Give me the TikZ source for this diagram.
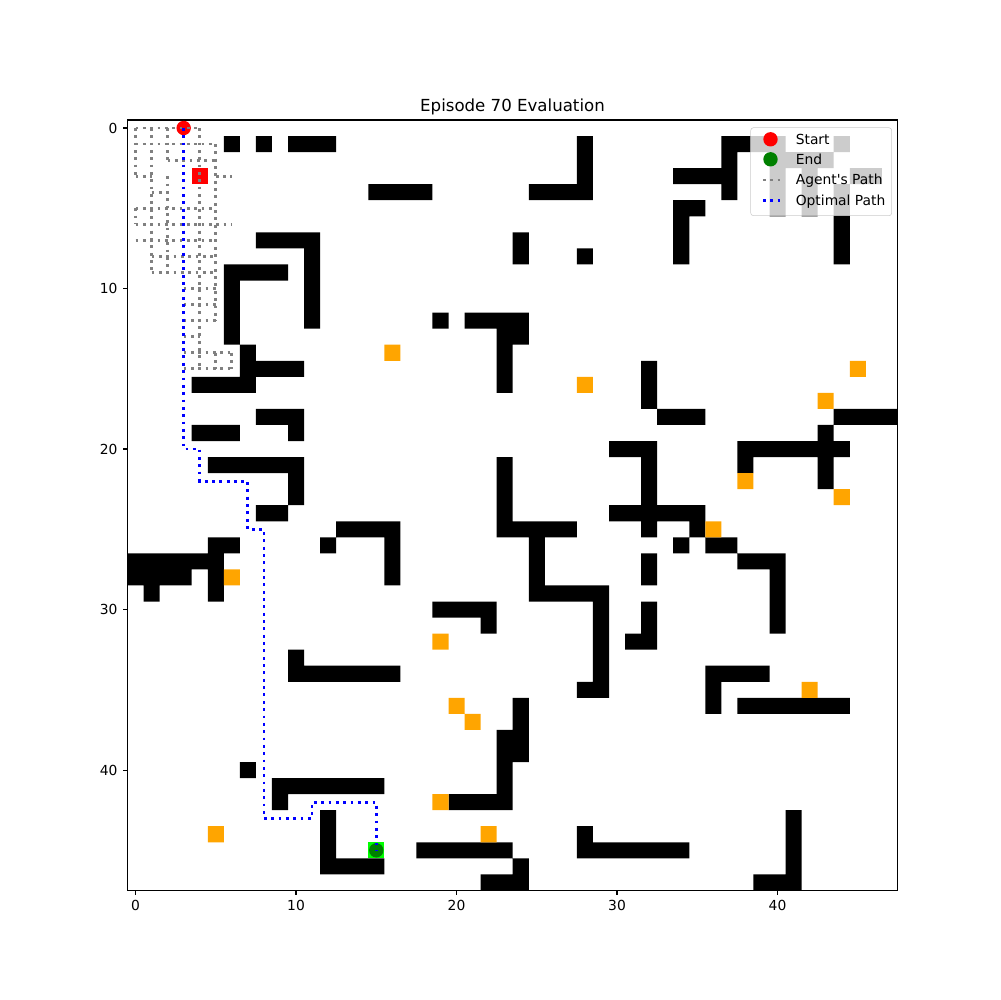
\documentclass[tikz,border=0pt]{standalone}
\usepackage{fontspec}
\setmainfont{DejaVu Sans}
\definecolor{arancio}{HTML}{FFA500}
\definecolor{verdeend}{HTML}{008000}
\definecolor{lime}{HTML}{00FF00}
\definecolor{grigio}{HTML}{808080}
\definecolor{bordolegenda}{HTML}{CCCCCC}
\begin{document}
\begin{tikzpicture}[x=0.01in,y=-0.01in,
    percorso/.style={line width=2pt,dash pattern=on 2pt off 3.3pt},
    tacca/.style={line width=0.8pt},
    etichetta/.style={inner sep=0pt,font=\fontsize{10}{12}\selectfont}]
    %sfondo e dimensioni
    \fill[white] (0,0) rectangle (1000,1000);
    \useasboundingbox (0,0) rectangle (1000,1000);
    %titolo
    \node[anchor=base,inner sep=0pt,font=\fontsize{12}{14}\selectfont] (titolo) at (512.5,111.7) {Episode 70 Evaluation};
    \begin{scope}[shift={(135.52,128.02)},x=0.160417in,y=-0.160417in]
        %disegno muri
        \fill[black] \foreach \a/\b/\c/\d in {6/1/6/1, 8/1/8/1, 10/1/12/1, 37/1/40/1, 44/1/44/1,
            28/1/28/4, 25/4/28/4, 15/4/18/4, 37/1/37/4, 34/3/37/3, 40/2/43/2, 40/1/40/5,
            42/2/42/5, 45/3/46/3, 44/4/44/8, 34/5/35/5, 34/5/34/8, 8/7/11/7, 11/7/11/12,
            24/7/24/8, 28/8/28/8, 6/9/9/9, 6/9/6/13, 19/12/19/12, 21/12/24/12, 23/12/23/16,
            23/13/24/13, 7/14/7/15, 7/15/10/15, 4/16/7/16, 32/15/32/17, 8/18/10/18,
            33/18/35/18, 44/18/47/18, 4/19/6/19, 10/19/10/19, 43/19/43/22, 30/20/32/20,
            38/20/44/20, 38/21/38/21, 5/21/10/21, 10/21/10/23, 23/21/23/25, 32/20/32/25,
            8/24/9/24, 30/24/35/24, 13/25/16/25, 23/25/27/25, 35/25/35/25, 5/26/6/26,
            12/26/12/26, 16/25/16/28, 25/25/25/29, 34/26/34/26, 36/26/37/26, 0/27/5/27,
            0/28/3/28, 5/26/5/29, 1/29/1/29, 32/27/32/28, 38/27/40/27, 40/27/40/31,
            25/29/29/29, 29/29/29/35, 28/35/29/35, 19/30/22/30, 22/30/22/31, 32/30/32/32,
            31/32/32/32, 10/33/10/34, 10/34/16/34, 36/34/39/34, 36/34/36/36, 38/36/44/36,
            24/36/24/39, 23/38/23/42, 7/40/7/40, 9/41/15/41, 9/41/9/42, 20/42/23/42,
            12/43/12/46, 12/46/15/46, 41/43/41/47, 39/47/41/47, 28/44/28/45, 28/45/34/45,
            18/45/23/45, 24/46/24/46, 22/47/24/47}
            {(\a-0.5,\b-0.5) rectangle (\c+0.5,\d+0.5)};
        %disegno premi
        \fill[arancio] \foreach \c/\r in {16/14, 45/15, 28/16, 43/17, 38/22, 44/23, 36/25,
            6/28, 19/32, 42/35, 20/36, 21/37, 19/42, 5/44, 22/44}
            {(\c-0.5,\r-0.5) rectangle ++(1,1)};
        %posizione agente e arrivo
        \fill[red] (3.5,2.5) rectangle ++(1,1);
        \fill[lime] (14.5,44.5) rectangle ++(1,1);
        %cornice
        \draw[tacca] (-0.5,-0.5) rectangle (47.5,47.5);
        %tacche e numeri
        \foreach \t in {0,10,20,30,40} {
            \draw[tacca] (\t,47.5) -- ++(0,-3.5pt);
            \node[etichetta,anchor=north] (xt\t) at ([yshift=-7pt]\t,47.5) {\t};
            \draw[tacca] (-0.5,\t) -- ++(-3.5pt,0);
            \node[etichetta,anchor=east] (yt\t) at ([xshift=-7pt]-0.5,\t) {\t};
        }
        %inizio e fine
        \fill[red] (3,0) circle (5.2pt);
        \fill[verdeend] (15,45) circle (5.2pt);
        %percorso agente
        \draw[percorso,grigio] \foreach \a/\b/\c/\d in {0/0/4/0, 0/1/5/1, 2/2/5/2, 0/3/1/3,
            5/3/6/3, 1/4/2/4, 0/5/5/5, 0/6/6/6, 0/7/5/7, 1/8/5/8, 1/9/5/9, 3/10/5/10,
            3/11/5/11, 3/12/5/12, 3/13/4/13, 3/14/6/14, 3/15/6/15, 0/0/0/3, 0/5/0/6,
            1/0/1/9, 2/0/2/2, 2/3/2/9, 3/0/3/15, 4/0/4/15, 5/1/5/12, 5/14/5/15, 6/14/6/15}
            {(\a,\b) -- (\c,\d)};
        %percorso ottimo
        \draw[percorso,blue] (3,0) -- (3,20) -- (4,20) -- (4,22) -- (7,22) -- (7,25)
            -- (8,25) -- (8,43) -- (11,43) -- (11,42) -- (15,42) -- (15,45);
    \end{scope}
    %legenda
    \draw[rounded corners=2pt,draw=bordolegenda,fill=white,fill opacity=0.8] (750.7,127.7) rectangle (891.7,215.7);
    \fill[red] (770.5,139.3) circle (5.2pt);
    \fill[verdeend] (770.5,159.3) circle (5.2pt);
    \draw[percorso,grigio] (763,180) -- (782,180);
    \draw[percorso,blue] (763,200.3) -- (782,200.3);
    \node[etichetta,anchor=base west] (lstart) at (795.5,144.2) {Start};
    \node[etichetta,anchor=base west] (lend) at (795.5,164.2) {End};
    \node[etichetta,anchor=base west] (lagente) at (795.5,184.8) {Agent\textquotesingle s Path};
    \node[etichetta,anchor=base west] (lottimo) at (795.5,205.1) {Optimal Path};
\end{tikzpicture}
\end{document}
